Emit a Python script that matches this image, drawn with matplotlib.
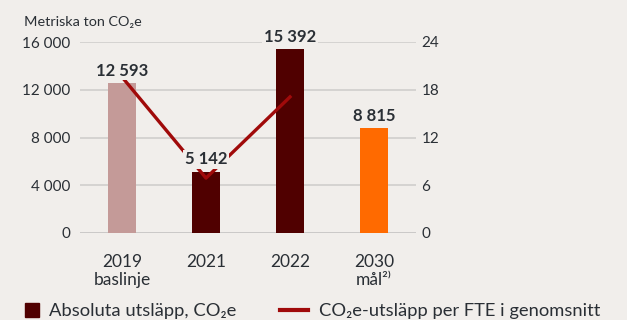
import matplotlib.pyplot as plt
from matplotlib.lines import Line2D
from matplotlib.ticker import FuncFormatter

plt.rcParams['font.family'] = ['Lato', 'DejaVu Sans']

# data
categories = ['2019\nbaslinje', '2021', '2022', '2030\nmål²⁾']
emissions = [12593, 5142, 15392, 8815]
bar_colors = ['#C49A98', '#500000', '#500000', '#FF6A00']
per_fte = [19.6, 6.9, 17.1]
left_ticks = [0, 4000, 8000, 12000, 16000]
right_ticks = [0, 6, 12, 18, 24]

bg = '#F1EEEB'
txt = '#2A2F35'

fig = plt.figure(figsize=(6.27, 3.2), dpi=100, facecolor=bg)
ax = fig.add_axes([80 / 627, 1 - 233 / 320, 336 / 627, 191 / 320], facecolor=bg)
ax2 = ax.twinx()

x = range(len(categories))
ax.bar(x, emissions, width=0.33, color=bar_colors, zorder=2)
ax.set_xlim(-0.5, 3.5)
ax.set_ylim(0, 16000)
ax.set_yticks(left_ticks)
ax.yaxis.set_major_formatter(FuncFormatter(lambda v, p: f'{int(v):,}'.replace(',', ' ')))
ax.set_xticks(list(x))
ax.set_xticklabels(categories, linespacing=1.15)
ax.grid(axis='y', color='#D0CECC', linewidth=1.2, zorder=0)
ax.axhline(0, color='#AFAFAF', linewidth=2, zorder=1)
for s in ax.spines.values():
    s.set_visible(False)
ax.tick_params(axis='y', length=0, pad=7, labelsize=11, labelcolor=txt)
ax.tick_params(axis='x', length=0, pad=15, labelsize=12.5, labelcolor=txt)

ax2.set_ylim(0, 24)
ax2.set_yticks(right_ticks)
for s in ax2.spines.values():
    s.set_visible(False)
ax2.tick_params(axis='y', length=0, pad=4, labelsize=11, labelcolor=txt)
ax2.plot(range(len(per_fte)), per_fte, color='#A00A0A', linewidth=2.4, zorder=3)

# value labels above bars, drawn over the line
ax2.set_zorder(ax.get_zorder() + 1)
ax2.patch.set_visible(False)
for i, v in enumerate(emissions):
    ax2.annotate(f'{v:,}'.replace(',', ' '), (i, v / 16000 * 24), xytext=(0, 3),
                 textcoords='offset points', ha='center', va='bottom',
                 fontsize=12, fontweight='bold', color=txt, zorder=4,
                 bbox=dict(boxstyle='square,pad=0.1', fc=bg, ec='none'))

fig.text(24 / 627, 1 - 22 / 320, 'Metriska ton CO₂e', fontsize=10.4, color=txt, va='center')

# legend: two parts so each handle gets its own length
leg_y = 1 - 311 / 320
fig.legend([Line2D([], [], marker='s', linestyle='none', markersize=10.5, color='#500000')],
           ['Absoluta utsläpp, CO₂e'], loc='center left',
           bbox_to_anchor=(24 / 627, leg_y), frameon=False,
           labelcolor=txt, handlelength=0.9, handletextpad=0.45, borderpad=0,
           borderaxespad=0, fontsize=13.2)
fig.legend([Line2D([], [], color='#A00A0A', linewidth=3)],
           ['CO₂e-utsläpp per FTE i genomsnitt'], loc='center left',
           bbox_to_anchor=(280 / 627, leg_y), frameon=False,
           labelcolor=txt, handlelength=1.5, handletextpad=0.65, borderpad=0,
           borderaxespad=0, fontsize=13.2)

fig.savefig('out.png', dpi=100, facecolor=bg)
